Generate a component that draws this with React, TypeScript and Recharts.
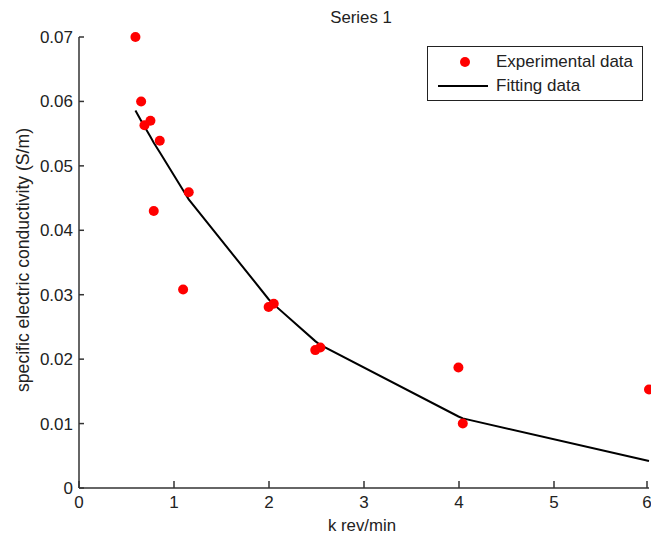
import React from 'react';
import { ScatterChart, Scatter, XAxis, YAxis } from 'recharts';

// k rev/min, sorted
const kValues = [0.594, 0.654, 0.689, 0.752, 0.787, 0.85, 1.096, 1.155, 1.996, 2.05, 2.487, 2.54, 3.994, 4.04, 6.0];
const experimental = [0.07, 0.06, 0.0563, 0.057, 0.043, 0.0539, 0.0308, 0.0459, 0.0281, 0.0286, 0.0214, 0.0218, 0.0187, 0.01, 0.0153];
const fitting = [0.0586, 0.057, 0.0561, 0.0545, 0.0536, 0.0521, 0.0462, 0.0448, 0.0293, 0.0285, 0.0228, 0.0222, 0.0111, 0.0108, 0.0042];

const xTicks = [0, 1, 2, 3, 4, 5, 6];
const yTicks = [0, 0.01, 0.02, 0.03, 0.04, 0.05, 0.06, 0.07];

const expData = kValues.map((k, i) => ({ k, v: experimental[i] }));
const fitData = kValues.map((k, i) => ({ k, v: fitting[i] }));

const FONT = '"Liberation Sans", Arial, sans-serif';
const AXIS = '#333';

const YTick = (props: any) => {
  const { x, y, payload } = props;
  return (
    <g>
      <line x1={x + 6} x2={x + 11} y1={y} y2={y} stroke={AXIS} strokeWidth={1.5} />
      <text x={x} y={y} dy="0.35em" textAnchor="end" fontSize={17} fill="#222" fontFamily={FONT}>
        {String(payload.value)}
      </text>
    </g>
  );
};

const XTick = (props: any) => {
  const { x, y, payload } = props;
  return (
    <g>
      <line x1={x} x2={x} y1={y} y2={y - 7} stroke={AXIS} strokeWidth={1.5} />
      <text x={x} y={y + 20} textAnchor="middle" fontSize={17} fill="#222" fontFamily={FONT}>
        {String(payload.value)}
      </text>
    </g>
  );
};

const YLabel = () => (
  <text
    x={29}
    y={260}
    transform="rotate(-90, 29, 260)"
    textAnchor="middle"
    fontSize={17.6}
    fill="#222"
    fontFamily={FONT}
  >
    specific electric conductivity (S/m)
  </text>
);

const XLabel = () => (
  <text x={362} y={531} textAnchor="middle" fontSize={16.8} fill="#222" fontFamily={FONT}>
    k rev/min
  </text>
);

const LegendBox = () => (
  <div
    style={{
      position: 'absolute',
      left: 427,
      top: 46,
      border: '1.5px solid #222',
      background: '#fff',
      width: 214,
      height: 53,
      fontFamily: FONT,
      fontSize: 17,
      color: '#222',
      zIndex: 2,
    }}
  >
    <div style={{ display: 'flex', alignItems: 'center', height: 24, marginTop: 3 }}>
      <svg width={68} height={24}>
        <circle cx={37} cy={12} r={5} fill="#ff0000" />
      </svg>
      <span>Experimental data</span>
    </div>
    <div style={{ display: 'flex', alignItems: 'center', height: 24 }}>
      <svg width={68} height={24}>
        <line x1={10} x2={60} y1={12} y2={12} stroke="#000" strokeWidth={2} />
      </svg>
      <span>Fitting data</span>
    </div>
  </div>
);

export default function App() {
  return (
    <div style={{ position: 'absolute', left: 0, top: 0, width: 651, height: 535, background: '#fff' }}>
      <div
        style={{
          position: 'absolute',
          top: 8,
          left: 76,
          width: 570,
          textAlign: 'center',
          fontFamily: FONT,
          fontSize: 16.8,
          lineHeight: '19px',
          color: '#222',
        }}
      >
        Series 1
      </div>
      <ScatterChart width={651} height={535} margin={{ top: 37, right: 2, bottom: 0, left: 0 }}>
        <XAxis
          type="number"
          dataKey="k"
          domain={[0, 6]}
          ticks={xTicks}
          height={47}
          tickSize={0}
          tickMargin={0}
          stroke={AXIS}
          strokeWidth={1.5}
          tick={<XTick />}
          label={<XLabel />}
        />
        <YAxis
          type="number"
          dataKey="v"
          domain={[0, 0.07]}
          ticks={yTicks}
          width={79}
          tickSize={0}
          tickMargin={6}
          stroke={AXIS}
          strokeWidth={1.5}
          tick={<YTick />}
          label={<YLabel />}
        />
        <Scatter
          name="Fitting data"
          data={fitData}
          line={{ stroke: '#000', strokeWidth: 2 }}
          shape={() => <g />}
          isAnimationActive={false}
        />
        <Scatter
          name="Experimental data"
          data={expData}
          fill="#ff0000"
          shape={(p: any) => <circle cx={p.cx} cy={p.cy} r={5} fill="#ff0000" />}
          isAnimationActive={false}
        />
      </ScatterChart>
      <LegendBox />
    </div>
  );
}
